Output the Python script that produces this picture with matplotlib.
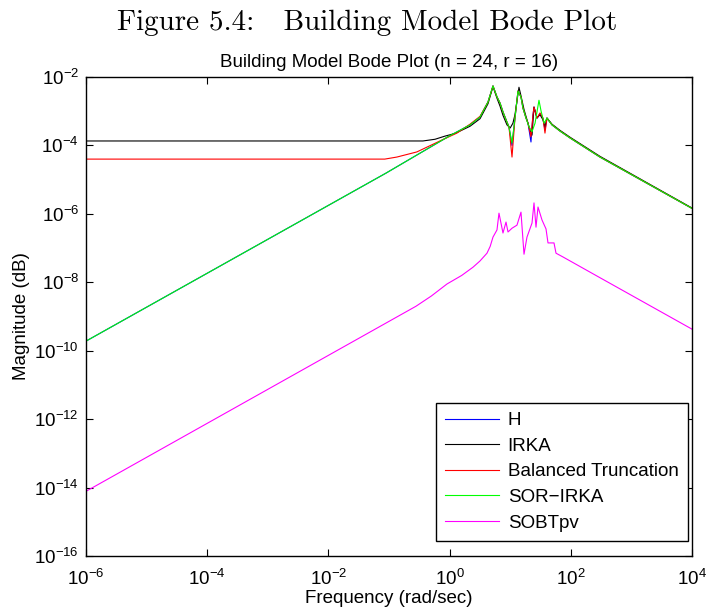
import numpy as np
import matplotlib
matplotlib.use("Agg")
import matplotlib.pyplot as plt
from matplotlib.ticker import LogLocator, NullLocator

plt.rcParams['font.family'] = ['Liberation Sans', 'DejaVu Sans']
plt.rcParams['mathtext.fontset'] = 'custom'
plt.rcParams['mathtext.rm'] = 'Liberation Sans'

# Frequency response magnitudes, stored as log10(rad/sec) and log10(|G(jw)|)
h_logw = [-6, -1.05, 0.0, 0.337, 0.502, 0.634, 0.716, 0.782, 0.832, 0.881, 0.947,
          0.980, 1.030, 1.079, 1.129, 1.178, 1.211, 1.261, 1.294, 1.343, 1.376,
          1.393, 1.442, 1.492, 1.541, 1.574, 1.607, 1.690, 1.822, 1.987, 2.482, 4.0]
h_logmag = [-9.72, -4.81, -3.72, -3.40, -3.17, -2.73, -2.26, -2.58, -2.76, -3.02, -3.32,
            -3.46, -4.00, -3.20, -2.41, -2.58, -2.91, -3.20, -3.35, -3.90, -3.11,
            -2.88, -3.20, -3.08, -3.22, -3.55, -3.20, -3.40, -3.58, -3.78, -4.34, -5.84]

irka_logw = [-6, -0.44, -0.24, -0.08, 0.09, 0.337, 0.502, 0.634, 0.716, 0.782, 0.832,
             0.881, 0.947, 1.000, 1.045, 1.079, 1.145, 1.178, 1.228, 1.277, 1.327,
             1.360, 1.393, 1.442, 1.492, 1.541, 1.574, 1.607, 1.690, 1.822, 1.987,
             2.482, 4.0]
irka_logmag = [-3.87, -3.87, -3.82, -3.73, -3.65, -3.44, -3.22, -2.78, -2.28, -2.62, -2.85,
               -3.12, -3.40, -3.49, -3.35, -3.10, -2.30, -2.55, -2.95, -3.25, -3.55,
               -3.70, -2.88, -3.20, -3.10, -3.25, -3.46, -3.20, -3.38, -3.56, -3.76,
               -4.32, -5.83]

bt_logw = [-6, -1.07, -0.87, -0.54, -0.16, 0.12, 0.337, 0.502, 0.634, 0.716, 0.782,
           0.832, 0.881, 0.947, 0.980, 1.030, 1.079, 1.129, 1.178, 1.211, 1.261,
           1.294, 1.343, 1.376, 1.393, 1.442, 1.492, 1.541, 1.574, 1.607, 1.690,
           1.822, 1.987, 2.482, 4.0]
bt_logmag = [-4.40, -4.40, -4.34, -4.19, -3.87, -3.64, -3.38, -3.15, -2.73, -2.26, -2.58,
             -2.76, -3.02, -3.32, -3.46, -4.34, -3.20, -2.41, -2.58, -2.91, -3.20,
             -3.35, -3.75, -3.11, -2.88, -3.20, -3.05, -3.20, -3.64, -3.20, -3.40,
             -3.58, -3.78, -4.34, -5.84]

sor_logw = [-6, -1.05, 0.0, 0.337, 0.502, 0.634, 0.716, 0.782, 0.832, 0.881, 0.947,
            0.980, 1.030, 1.079, 1.129, 1.178, 1.211, 1.261, 1.310, 1.360, 1.410,
            1.475, 1.510, 1.560, 1.607, 1.690, 1.822, 1.987, 2.482, 4.0]
sor_logmag = [-9.72, -4.81, -3.72, -3.40, -3.17, -2.73, -2.26, -2.58, -2.76, -3.02, -3.32,
              -3.46, -3.93, -3.20, -2.41, -2.58, -2.91, -3.20, -3.45, -3.60, -3.35,
              -2.68, -3.00, -3.35, -3.20, -3.40, -3.58, -3.78, -4.34, -5.84]

sobt_logw = [-6, -0.554, -0.30, -0.043, 0.20, 0.386, 0.50, 0.617, 0.67, 0.716, 0.782,
             0.815, 0.881, 0.931, 0.964, 1.030, 1.112, 1.178, 1.228, 1.277, 1.360,
             1.393, 1.426, 1.459, 1.525, 1.591, 1.624, 1.723, 1.756, 1.871, 2.465, 4.0]
sobt_logmag = [-14.11, -8.70, -8.40, -8.05, -7.80, -7.56, -7.38, -7.15, -6.95, -6.68, -6.47,
               -5.98, -6.56, -6.24, -6.53, -6.42, -6.33, -5.95, -7.18, -6.68, -6.27,
               -5.68, -6.39, -5.80, -6.18, -6.44, -6.85, -6.85, -7.15, -7.26, -7.85, -9.37]

series = [
    ("H", h_logw, h_logmag, "#0000ff"),
    ("IRKA", irka_logw, irka_logmag, "#000000"),
    ("Balanced Truncation", bt_logw, bt_logmag, "#ff0000"),
    ("SOR\u2212IRKA", sor_logw, sor_logmag, "#00ff00"),
    ("SOBTpv", sobt_logw, sobt_logmag, "#ff00ff"),
]

fig = plt.figure(figsize=(7.09, 6.14), dpi=100)
ax = fig.add_axes([0.1213, 0.0945, 0.8547, 0.7801])

for name, lw_, lm_, col in series:
    ax.loglog(10.0 ** np.array(lw_), 10.0 ** np.array(lm_), color=col, lw=0.8, label=name)

ax.set_xlim(1e-6, 1e4)
ax.set_ylim(1e-16, 1e-2)
ax.xaxis.set_major_locator(LogLocator(base=100.0, numticks=20))
ax.yaxis.set_major_locator(LogLocator(base=100.0, numticks=20))
ax.xaxis.set_minor_locator(NullLocator())
ax.yaxis.set_minor_locator(NullLocator())
ax.tick_params(which='major', direction='in', length=5, width=0.8,
               top=True, right=True, labelsize=13.5)
ax.tick_params(axis='x', pad=9)
ax.tick_params(axis='y', pad=5)
for s in ax.spines.values():
    s.set_linewidth(1.0)

ax.set_xlabel("Frequency (rad/sec)", fontsize=13.5, labelpad=1)
ax.set_ylabel("Magnitude (dB)", fontsize=13.5, labelpad=3)
ax.set_title("Building Model Bode Plot (n = 24, r = 16)", fontsize=13.5, pad=7)

leg = ax.legend(loc='lower right', bbox_to_anchor=(0.9934, 0.0313), borderaxespad=0,
                fontsize=13.5, fancybox=False, framealpha=1, edgecolor='black',
                handlelength=2.9, handletextpad=0.45, labelspacing=0.45, borderpad=0.5)
leg.get_frame().set_linewidth(1.0)

fig.text(0.518, 0.963, "Figure 5.4:   Building Model Bode Plot", fontname='cmr10',
         fontsize=21, ha='center', va='center')

fig.savefig("out.png", dpi=100)
